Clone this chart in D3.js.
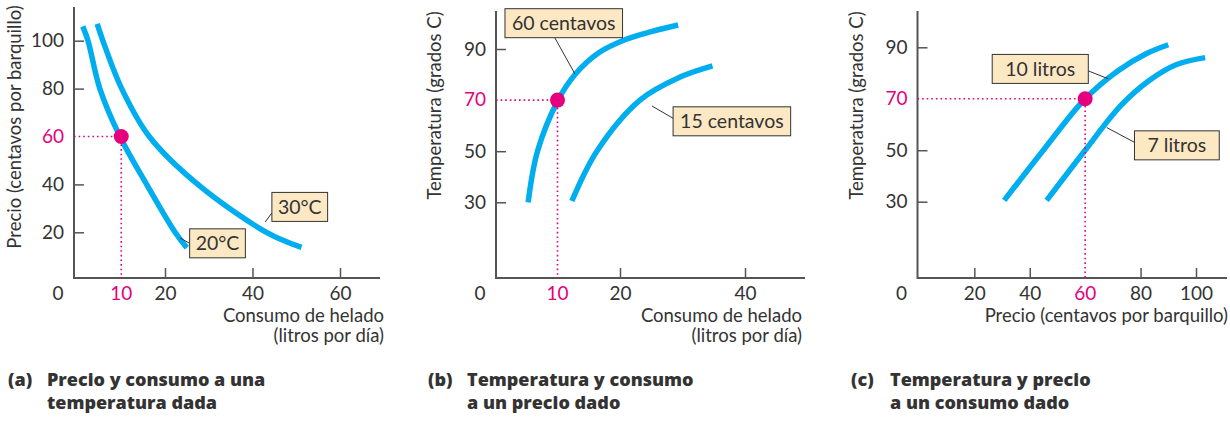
<!DOCTYPE html>
<html>
<head>
<meta charset="utf-8">
<script src="https://cdn.jsdelivr.net/npm/d3@7"></script>
<style>
  body { margin: 0; background: #fff; }
  svg { display: block; font-family: Lato, "Noto Sans", sans-serif; }
</style>
</head>
<body>
<svg id="chart" width="1230" height="421"></svg>
<script>
// ---- data ----
// (a) precio vs consumo, temperatura fija
var curve20C = [[1.2, 106], [2.4, 100], [5.1, 80], [9.7, 60], [15.8, 40], [22.3, 20], [25, 13.5]];
var curve30C = [[4.5, 107], [5.8, 100], [10.1, 80], [16.4, 60], [27.5, 40], [43.2, 20], [51.2, 13.7]];
var priceTicksA = [20, 40, 80, 100];
var consumoTicksA = [20, 40, 60];
var pointA = [10, 60];

// (b) temperatura vs consumo, precio fijo
var curve60c = [[5.3, 30], [6.8, 50], [10.1, 70], [12.8, 80], [16.6, 88.5], [21, 93.8], [25, 96.8], [29.3, 99.4]];
var curve15c = [[12.3, 30.5], [16.3, 50], [23.2, 70], [29.6, 79], [34.8, 83.4]];
var tempTicks = [30, 50, 90];
var consumoTicksB = [20, 40];
var pointB = [10, 70];

// (c) temperatura vs precio, consumo fijo
var curve10L = [[30.8, 30.5], [44.9, 50], [60, 70], [72, 81], [82, 87.5], [90, 91]];
var curve7L = [[46.1, 30.5], [60, 50], [73, 67.5], [83, 77], [93, 83.3], [103.3, 86]];
var priceTicksC = [20, 40, 80, 100];
var pointC = [60, 70];

var blue = "#00aeef", pink = "#e5007d", ink = "#333", axisCol = "#555";

var svg = d3.select("#chart");

var line = d3.line().curve(d3.curveCatmullRom.alpha(0.5));

function styleAxis(s) {
  s.attr("font-family", null).attr("font-size", null);
  s.select(".domain").remove();
  s.selectAll("line").attr("stroke", axisCol).attr("stroke-width", 1.5);
  s.selectAll("text").attr("font-size", 19).attr("fill", ink);
}

function panel(p) {
  var x = d3.scaleLinear().domain(p.xd).range(p.xr);
  var y = d3.scaleLinear().domain(p.yd).range(p.yr);
  var g = svg.append("g");

  // axes (ticks pointing inward)
  g.append("g")
    .attr("transform", "translate(0," + p.ax.y0 + ")")
    .call(d3.axisBottom(x).tickValues(p.xticks).tickSize(-10).tickPadding(9).tickFormat(d3.format("d")))
    .call(styleAxis);
  g.append("g")
    .attr("transform", "translate(" + p.ax.x0 + ",0)")
    .call(d3.axisLeft(y).tickValues(p.yticks).tickSize(-10).tickPadding(10).tickFormat(d3.format("d")))
    .call(styleAxis);

  g.append("path")
    .attr("d", "M" + p.ax.x0 + "," + p.ax.top + "V" + p.ax.y0 + "H" + p.ax.right)
    .attr("fill", "none").attr("stroke", axisCol).attr("stroke-width", 2);

  // origin label
  g.append("text").attr("x", p.ax.x0 - 16).attr("y", p.ax.y0 + 22)
    .attr("text-anchor", "middle").attr("font-size", 19).attr("fill", ink).text("0");

  // curves
  p.curves.forEach(function(c) {
    g.append("path")
      .attr("d", line(c.map(function(d) { return [x(d[0]), y(d[1])]; })))
      .attr("fill", "none").attr("stroke", blue).attr("stroke-width", 5.5);
  });

  // dotted guides and highlighted point
  var px = x(p.point[0]), py = y(p.point[1]);
  g.append("path")
    .attr("d", "M" + p.ax.x0 + "," + py + "H" + px + "V" + p.ax.y0)
    .attr("fill", "none").attr("stroke", pink).attr("stroke-width", 1.6)
    .attr("stroke-dasharray", "1.6,3");
  g.append("circle").attr("cx", px).attr("cy", py).attr("r", 7.5).attr("fill", pink);
  g.append("text").attr("x", px).attr("y", p.ax.y0 + 22)
    .attr("text-anchor", "middle").attr("font-size", 19).attr("fill", pink).text(p.point[0]);
  g.append("text").attr("x", p.ax.x0 - 10).attr("y", py).attr("dy", "0.32em")
    .attr("text-anchor", "end").attr("font-size", 19).attr("fill", pink).text(p.point[1]);

  // labels with leader lines
  p.labels.forEach(function(l) {
    var cx = x(l.x), cy = y(l.y);
    var lg = g.append("g");
    var ld = lg.append("line");
    var rc = lg.append("rect");
    var t = lg.append("text").attr("x", cx).attr("y", cy).attr("dy", "0.35em")
      .attr("text-anchor", "middle").attr("font-size", 19.5).attr("fill", ink).text(l.text);
    var w = t.node().getComputedTextLength() + 2 * l.pad, h = 29;
    var bx = cx - w / 2, by = cy - h / 2;
    var sx = l.from === "left" ? bx : l.from === "right" ? bx + w : cx - 9;
    var sy = l.from === "bottom" ? by + h : cy + (l.dy || 0);
    ld.attr("x1", sx).attr("y1", sy).attr("x2", x(l.lx)).attr("y2", y(l.ly))
      .attr("stroke", ink).attr("stroke-width", 1);
    rc.attr("x", bx).attr("y", by).attr("width", w).attr("height", h)
      .attr("fill", "#fde8c4").attr("stroke", ink).attr("stroke-width", 1);
  });

  // axis titles
  g.append("text")
    .attr("transform", "translate(" + p.ytitle.x + "," + p.ytitle.y + ") rotate(-90)")
    .attr("text-anchor", "middle").attr("font-size", 18.5).attr("fill", ink).text(p.ytitle.text);
  p.xtitle.lines.forEach(function(s, i) {
    g.append("text").attr("x", p.xtitle.x).attr("y", p.xtitle.y + i * 20)
      .attr("text-anchor", "end").attr("font-size", 18.5).attr("fill", ink).text(s);
  });

  // caption
  p.caption.forEach(function(s, i) {
    var t = g.append("text").attr("y", 386 + i * 23)
      .attr("font-family", "'Open Sans', sans-serif")
      .attr("font-size", 18).attr("font-weight", 800).attr("fill", ink);
    if (i === 0) {
      t.append("tspan").attr("x", p.capX).text(p.tag);
      t.append("tspan").attr("x", p.capX + 39).text(s);
    } else {
      t.attr("x", p.capX + 39).text(s);
    }
  });
}

panel({
  xd: [20, 60], xr: [165, 340], yd: [20, 100], yr: [232.3, 40.7],
  ax: { x0: 74, y0: 278, top: 7, right: 380 },
  xticks: consumoTicksA, yticks: priceTicksA,
  curves: [curve20C, curve30C], point: pointA,
  labels: [
    { text: "30°C", x: 50.8, y: 30.6, pad: 6, from: "left", dy: 6, lx: 42.9, ly: 24.3 },
    { text: "20°C", x: 32.0, y: 15.4, pad: 6, from: "left", dy: 0, lx: 23.4, ly: 17.7 }
  ],
  ytitle: { text: "Precio (centavos por barquillo)", x: 21, y: 127 },
  xtitle: { lines: ["Consumo de helado", "(litros por día)"], x: 384, y: 322 },
  tag: "(a)", capX: 8, caption: ["Precio y consumo a una", "temperatura dada"]
});

panel({
  xd: [20, 40], xr: [620, 745], yd: [30, 90], yr: [202.3, 49],
  ax: { x0: 496, y0: 278, top: 11, right: 805 },
  xticks: consumoTicksB, yticks: tempTicks,
  curves: [curve60c, curve15c], point: pointB,
  labels: [
    { text: "60 centavos", x: 11.0, y: 100.1, pad: 7, from: "bottom", lx: 12.8, ly: 80.2 },
    { text: "15 centavos", x: 37.9, y: 61.7, pad: 7, from: "left", dy: -3, lx: 25.1, ly: 67.7 }
  ],
  ytitle: { text: "Temperatura (grados C)", x: 441, y: 105.5 },
  xtitle: { lines: ["Consumo de helado", "(litros por día)"], x: 802, y: 322 },
  tag: "(b)", capX: 428, caption: ["Temperatura y consumo", "a un precio dado"]
});

panel({
  xd: [20, 100], xr: [974.3, 1196], yd: [30, 90], yr: [201.7, 47.3],
  ax: { x0: 917.5, y0: 278, top: 11, right: 1227 },
  xticks: priceTicksC, yticks: tempTicks,
  curves: [curve10L, curve7L], point: pointC,
  labels: [
    { text: "10 litros", x: 43.8, y: 81.6, pad: 13, from: "right", dy: 2, lx: 68.3, ly: 77.8 },
    { text: "7 litros", x: 93.1, y: 51.9, pad: 13, from: "left", dy: -3, lx: 67.8, ly: 58.8 }
  ],
  ytitle: { text: "Temperatura (grados C)", x: 863, y: 105.5 },
  xtitle: { lines: ["Precio (centavos por barquillo)"], x: 1228, y: 322 },
  tag: "(c)", capX: 851, caption: ["Temperatura y precio", "a un consumo dado"]
});
</script>
</body>
</html>
